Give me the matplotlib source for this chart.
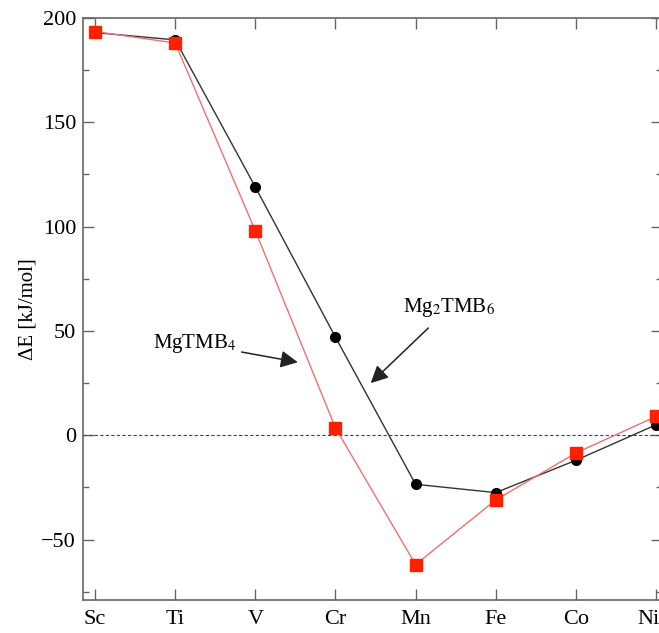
import matplotlib
matplotlib.use('Agg')
import matplotlib.pyplot as plt
import matplotlib.transforms as mtransforms

# Formation energy by transition metal
metals = ['Sc', 'Ti', 'V', 'Cr', 'Mn', 'Fe', 'Co', 'Ni']
mg2tmb6 = [193, 189.5, 119, 47, -23.5, -27.5, -12, 5]
mgtmb4 = [193.5, 188, 98, 3.5, -62, -31, -8.5, 9]

plt.rcParams['font.family'] = ['Liberation Serif', 'DejaVu Serif']
plt.rcParams['mathtext.fontset'] = 'stix'

fig = plt.figure(figsize=(6.59, 6.33), dpi=100)
ax = fig.add_axes([0.126, 0.052, 0.878, 0.9196])

x = list(range(len(metals)))
ax.axhline(0, color='#3333cc', lw=0.8, ls=(0, (3, 2)))
ax.plot(x, mg2tmb6, color='#333333', lw=1.0, marker='o', ms=7, mfc='black', mec='black', zorder=3)
ax.plot(x, mgtmb4, color='#f07070', lw=1.0, marker='s', ms=8, mfc='#ff2000', mec='#ff2000', zorder=4)

ax.annotate('MgTMB$_4$', xy=(2.53, 35), xytext=(1.24, 44), ha='center', va='center', fontsize=15,
            arrowprops=dict(arrowstyle='-|>', color='#222222', lw=1.1, mutation_scale=26, shrinkA=2, shrinkB=0))
ax.annotate('Mg$_2$TMB$_6$', xy=(3.44, 25), xytext=(4.42, 61), ha='center', va='center', fontsize=15,
            arrowprops=dict(arrowstyle='-|>', color='#222222', lw=1.1, mutation_scale=26, shrinkA=6, shrinkB=0))

ax.set_xlim(-0.15, 7.07)
ax.set_ylim(-79, 200)
ax.set_xticks(x)
ax.set_xticklabels(metals)
ax.set_yticks([-50, 0, 50, 100, 150, 200])
ax.set_yticks([-75, -25, 25, 75, 125, 175], minor=True)
ax.set_ylabel('ΔE [kJ/mol]', fontsize=15, labelpad=3)

ax.tick_params(axis='both', which='major', direction='in', length=8, width=1, labelsize=16,
               top=True, right=True, color='#666666')
ax.tick_params(axis='y', which='minor', direction='in', length=4, width=1, right=True, color='#666666')
ax.tick_params(axis='x', pad=7)
ax.tick_params(axis='y', pad=5)
for s in ax.spines.values():
    s.set_color('#666666')
    s.set_linewidth(1.2)

# last label sits at the right edge, nudge it left so it stays in the frame
last = ax.get_xticklabels()[-1]
last.set_transform(last.get_transform() + mtransforms.ScaledTranslation(-8 / 100, 0, fig.dpi_scale_trans))

plt.savefig('out.png', dpi=100)
